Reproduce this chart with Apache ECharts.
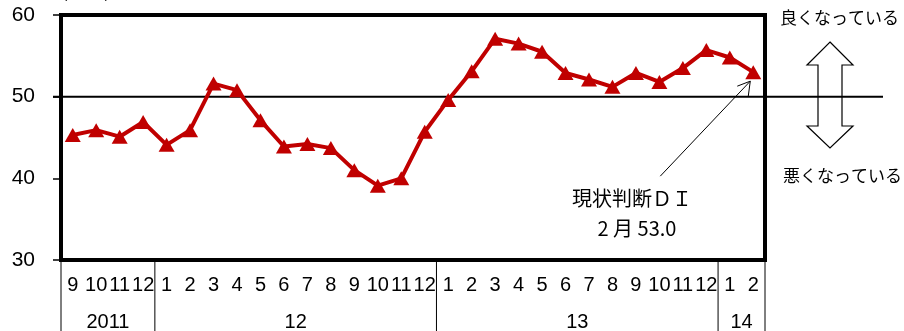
<!DOCTYPE html>
<html>
<head>
<meta charset="utf-8">
<script src="https://cdn.jsdelivr.net/npm/echarts@6/dist/echarts.min.js"></script>
<style>
  html, body { margin: 0; padding: 0; background: #fff; }
  #chart { width: 904px; height: 331px; }
</style>
</head>
<body>
<div id="chart"></div>
<script>
// months along the x axis, 2011/9 .. 2014/2
const months = [9, 10, 11, 12,
  1, 2, 3, 4, 5, 6, 7, 8, 9, 10, 11, 12,
  1, 2, 3, 4, 5, 6, 7, 8, 9, 10, 11, 12,
  1, 2];
const years = ["2011", "12", "13", "14"];
const yearSpans = [4, 12, 12, 2];
// 現状判断DI
const diValues = [45.3, 45.9, 45.1, 46.9, 44.1, 45.9, 51.6, 50.8, 47.1, 43.9,
  44.2, 43.7, 41.0, 39.1, 40.0, 45.7, 49.6, 53.1, 57.1, 56.5,
  55.5, 52.9, 52.1, 51.2, 52.9, 51.8, 53.5, 55.7, 54.8, 53.0];
const yMin = 30;
const yMax = 60;
const yStep = 10;
const refLevel = 50;
const noteLines = ["現状判断ＤＩ", "2 月 53.0"];

const categories = [];
let k = 0;
years.forEach((y, gi) => {
  for (let j = 0; j < yearSpans[gi]; j++) {
    categories.push(y + "-" + months[k]);
    k++;
  }
});

const chart = echarts.init(document.getElementById("chart"));
const font = "Liberation Sans, Arial, sans-serif";
const jpFont = "Noto Sans CJK JP";

let option = {
  animation: false,
  grid: {
    left: 61,
    right: 139,
    top: 15,
    bottom: 71,
    show: true,
    borderColor: "#000",
    borderWidth: 4
  },
  xAxis: {
    type: "category",
    data: categories,
    boundaryGap: true,
    axisLine: { show: false },
    axisTick: { show: false },
    axisLabel: {
      interval: 0,
      margin: 15,
      fontSize: 20,
      fontFamily: font,
      color: "#000",
      formatter: (v, i) => String(months[i])
    }
  },
  yAxis: {
    type: "value",
    min: yMin,
    max: yMax,
    interval: yStep,
    axisLine: { show: false },
    axisTick: { show: true, length: 8, lineStyle: { color: "#000", width: 1.5 } },
    splitLine: { show: false },
    axisLabel: { margin: 26, fontSize: 21, fontFamily: font, color: "#000" }
  },
  series: [
    {
      name: "現状判断DI",
      type: "line",
      data: diValues,
      symbol: "triangle",
      symbolSize: [16, 14],
      itemStyle: { color: "#C00000" },
      lineStyle: { color: "#C00000", width: 4 },
      z: 5
    }
  ]
};
chart.setOption(option);

// extra drawing: reference line, year row, annotation, arrows
const px = (i, v) => chart.convertToPixel({ gridIndex: 0 }, [i, v]);
const bw = px(1, refLevel)[0] - px(0, refLevel)[0];
const yRef = px(0, refLevel)[1];
const yBottom = px(0, yMin)[1];
const graphics = [];

graphics.push({
  type: "line",
  shape: { x1: 53, y1: yRef, x2: 883, y2: yRef },
  style: { stroke: "#000", lineWidth: 2 },
  z: 3
});

// year separators and labels
let start = 0;
const edges = [0];
yearSpans.forEach(n => { start += n; edges.push(start); });
edges.forEach(e => {
  const x = px(0, yMin)[0] - bw / 2 + e * bw;
  graphics.push({
    type: "line",
    shape: { x1: x, y1: yBottom, x2: x, y2: 331 },
    style: { stroke: "#000", lineWidth: 1 }
  });
});
years.forEach((y, gi) => {
  const a = px(edges[gi], yMin)[0] - bw / 2;
  const b = px(edges[gi + 1], yMin)[0] - bw / 2;
  graphics.push({
    type: "text",
    x: (a + b) / 2,
    y: 322,
    style: { text: y, fill: "#000", font: "20px " + font, align: "center", verticalAlign: "middle" }
  });
});

// annotation for the latest value
const last = px(diValues.length - 1, diValues[diValues.length - 1]);
const tip = [last[0] - 3, last[1] + 9];
const tail = [tip[0] - 90, tip[1] + 95];
graphics.push({
  type: "line",
  shape: { x1: tail[0], y1: tail[1], x2: tip[0], y2: tip[1] },
  style: { stroke: "#000", lineWidth: 1 }
});
graphics.push({
  type: "polyline",
  shape: { points: [[tip[0] - 13, tip[1] + 5], tip, [tip[0] - 2, tip[1] + 15]] },
  style: { stroke: "#000", lineWidth: 1, fill: null }
});
graphics.push({
  type: "text", x: 632, y: 198,
  style: { text: noteLines[0], fill: "#000", font: "20px " + jpFont, align: "center", verticalAlign: "middle" }
});
graphics.push({
  type: "text", x: 637, y: 228,
  style: { text: noteLines[1], fill: "#000", font: "20px " + jpFont, align: "center", verticalAlign: "middle" }
});

// better / worse arrow on the right
graphics.push({
  type: "polygon",
  shape: {
    points: [[830, 42], [853, 65], [842, 65], [842, 126], [853, 126], [830, 148],
      [807, 126], [818, 126], [818, 65], [807, 65]]
  },
  style: { stroke: "#000", lineWidth: 1.2, fill: null },
  z: 2
});
graphics.push({
  type: "text", x: 780, y: 18,
  style: { text: "良くなっている", fill: "#000", font: "17px " + jpFont, verticalAlign: "middle" }
});
graphics.push({
  type: "text", x: 783, y: 176,
  style: { text: "悪くなっている", fill: "#000", font: "17px " + jpFont, verticalAlign: "middle" }
});
graphics.push({
  type: "text", x: 50, y: -8,
  style: { text: "（ＤＩ）", fill: "#000", font: "18px " + jpFont, verticalAlign: "middle" }
});

chart.setOption({ graphic: graphics });
</script>
</body>
</html>
